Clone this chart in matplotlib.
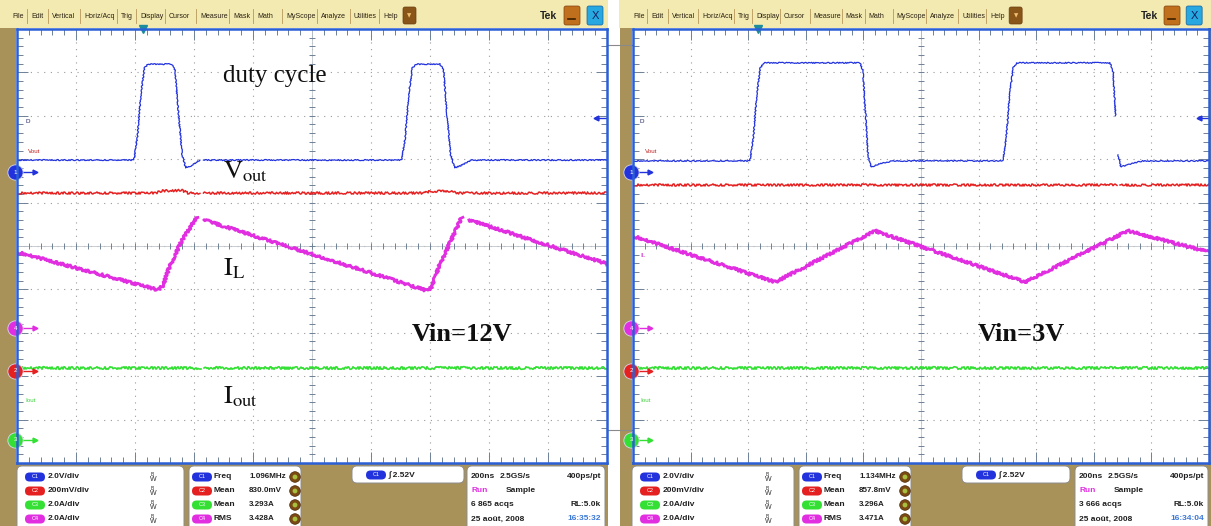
import numpy as np
import matplotlib.pyplot as plt
from matplotlib.patches import Rectangle, FancyBboxPatch, Circle

W, H = 1211, 526
nan = np.nan

# ---- traces, in scope divisions (x 0..10, y -5..5) ----
# left capture : Vin = 12V
l_duty_x = [0, 1.98, 2.04, 2.10, 2.16, 2.22, 2.62, 2.68, 2.74, 2.80, 2.86, 2.95, 3.10, nan,
            3.16, 6.52, 6.58, 6.64, 6.70, 6.76, 7.17, 7.23, 7.29, 7.35, 7.42, 7.52, 7.70, 10]
l_duty_y = [1.98, 1.98, 2.5, 3.5, 4.1, 4.19, 4.19, 4.05, 3.0, 2.1, 1.80, 1.85, 1.98, nan,
            1.98, 1.98, 2.5, 3.5, 4.1, 4.19, 4.19, 4.05, 3.0, 2.1, 1.80, 1.85, 1.98, 1.98]
l_vout_x = [0, 2.35, 2.45, 2.80, 2.90, 3.10, nan, 3.16, 6.90, 7.00, 7.35, 7.45, 10]
l_vout_y = [1.22, 1.22, 1.27, 1.28, 1.22, 1.22, nan, 1.22, 1.22, 1.26, 1.26, 1.22, 1.22]
l_il_x = [0, 2.39, 2.47, 2.59, 2.80, 3.05, nan, 3.17, 6.95, 7.03, 7.15, 7.36, 7.54, nan, 7.66, 10]
l_il_y = [-0.14, -1.01, -0.92, -0.46, 0.14, 0.67, nan, 0.60, -1.03, -0.94, -0.48, 0.14, 0.67, nan, 0.60, -0.41]
l_iout_x = [0, 3.12, nan, 3.17, 10]
l_iout_y = [-2.81, -2.81, nan, -2.81, -2.81]

# right capture : Vin = 3V
r_duty_x = [0, 2.03, 2.09, 2.15, 2.21, 2.27, 3.94, 3.99, 4.04, 4.08, 4.13, 4.25, 4.50,
            6.42, 6.48, 6.54, 6.60, 6.66, 8.28, 8.33, 8.38, nan, 8.42, 8.47, 8.60, 8.85, 10]
r_duty_y = [1.96, 1.96, 2.5, 3.5, 4.1, 4.22, 4.22, 4.05, 3.0, 2.1, 1.82, 1.88, 1.96,
            1.96, 2.5, 3.5, 4.1, 4.22, 4.22, 4.05, 3.0, nan, 2.1, 1.82, 1.88, 1.96, 1.96]
r_vout_x = [0, 8.40, nan, 8.45, 10]
r_vout_y = [1.41, 1.41, nan, 1.41, 1.41]
r_il_x = [0, 2.47, 4.20, 6.81, 8.59, 10]
r_il_y = [0.23, -0.83, 0.35, -0.83, 0.35, -0.14]
r_iout_x = [0, 10]
r_iout_y = [-2.81, -2.81]

# channel ground markers (1, 4, 2, 3)
marker_nums = ['1', '4', '2', '3']
marker_y = [1.70, -1.89, -2.88, -4.47]

# measurement readouts
ch_scale = ['2.0V/div', '200mV/div', '2.0A/div', '2.0A/div']
meas_name = ['Freq', 'Mean', 'Mean', 'RMS']
l_meas = ['1.096MHz', '830.0mV', '3.293A', '3.428A']
r_meas = ['1.134MHz', '857.8mV', '3.296A', '3.471A']
l_acqs, r_acqs = '6 865 acqs', '3 666 acqs'
l_time, r_time = '16:35:32', '16:34:04'
menu_items = ['File', 'Edit', 'Vertical', 'Horiz/Acq', 'Trig', 'Display', 'Cursor', 'Measure',
              'Mask', 'Math', 'MyScope', 'Analyze', 'Utilities', 'Help']
menu_x = [12, 31, 52, 84, 121, 140, 169, 200, 233, 257, 286, 321, 354, 383]

BLUE, RED, MAG, GRN = '#2233dd', '#e52020', '#e02ee0', '#33e033'
CH_COL = [BLUE, RED, GRN, MAG]
MK_COL = [BLUE, MAG, RED, GRN]
TAN = '#a8925a'
MENU = '#f3eab2'
SANS = ['Liberation Sans', 'DejaVu Sans']

fig = plt.figure(figsize=(W / 100, H / 100), dpi=100)
bg = fig.add_axes([0, 0, 1, 1], zorder=0)
bg.set_xlim(0, W); bg.set_ylim(H, 0); bg.axis('off')
top = fig.add_axes([0, 0, 1, 1], zorder=3)
top.set_xlim(0, W); top.set_ylim(H, 0); top.axis('off')


def px_axes(x0, y0, x1, y1):
    return fig.add_axes([x0 / W, 1 - y1 / H, (x1 - x0) / W, (y1 - y0) / H], zorder=1)


def rect(x0, y0, x1, y1, **kw):
    bg.add_patch(Rectangle((x0, y0), x1 - x0, y1 - y0, lw=0, **kw))


def menu_bar(x0, x1, fx, s):
    rect(x0, 0, x1, 28, color=MENU)
    for i, (name, mx) in enumerate(zip(menu_items, menu_x)):
        xx = fx + (mx - 12) * s
        bg.text(xx, 16, name, fontsize=5, family=SANS, color='#2a2010', va='center')
        if i < len(menu_items) - 1:
            sx = fx + (menu_x[i + 1] - 16) * s
            bg.plot([sx, sx], [9, 23], color='#b8985a', lw=0.6)
    bx = fx + (403 - 12) * s
    bg.add_patch(FancyBboxPatch((bx, 7), 13, 17, boxstyle='round,pad=0,rounding_size=2',
                                fc='#8a5518', ec='#6a4010', lw=0.5))
    bg.text(bx + 6.5, 15.5, '\u25bc', fontsize=4, color='#f0c070', ha='center', va='center')
    bg.text(fx + (540 - 12) * s, 16, 'Tek', fontsize=7.5, weight='bold', family=SANS,
            color='#202020', va='center')
    ox = fx + (564 - 12) * s
    bg.add_patch(FancyBboxPatch((ox, 6), 16, 19, boxstyle='round,pad=0,rounding_size=2',
                                fc='#c0701c', ec='#804010', lw=0.5))
    bg.plot([ox + 4, ox + 11], [19, 19], color='#402000', lw=1.2)
    xx = fx + (587 - 12) * s
    bg.add_patch(FancyBboxPatch((xx, 6), 16, 19, boxstyle='round,pad=0,rounding_size=2',
                                fc='#28a8e0', ec='#1060a0', lw=0.5))
    bg.text(xx + 8, 16, 'X', fontsize=8, family=SANS, color='#102060', ha='center', va='center')


def pill(x, y, label, col):
    bg.add_patch(FancyBboxPatch((x, y - 4.5), 20, 9, boxstyle='round,pad=0,rounding_size=4.5',
                                fc=col, ec='none'))
    bg.text(x + 10, y, label, fontsize=4, color='white', ha='center', va='center', family=SANS)


def panel(boxes, meas, acqs, clock):
    rows = [477, 491, 505, 519]
    (b1a, b1b), (b2a, b2b), (b3a, b3b), (b4a, b4b) = boxes
    for a, b in [(b1a, b1b), (b2a, b2b), (b4a, b4b)]:
        bg.add_patch(FancyBboxPatch((a, 466), b - a, 70, boxstyle='round,pad=0,rounding_size=5',
                                    fc='white', ec='#8c8c8c', lw=0.7))
    bg.add_patch(FancyBboxPatch((b3a, 466), b3b - b3a, 17, boxstyle='round,pad=0,rounding_size=5',
                                fc='white', ec='#8c8c8c', lw=0.7))
    tk = dict(fontsize=6, family=SANS, weight='bold', va='center', color='#202020')
    for i, y in enumerate(rows):
        pill(b1a + 8, y, 'C%d' % (i + 1), CH_COL[i])
        bg.text(b1a + 31, y, ch_scale[i], **tk)
        bg.text(b1a + 134, y - 3, 'B', fontsize=3.5, family=SANS, va='center', color='#303030')
        bg.text(b1a + 133, y + 2.5, 'W', fontsize=5, family=SANS, va='center', color='#303030')
        pill(b2a + 3, y, 'C%d' % (i + 1), CH_COL[i])
        bg.text(b2a + 25, y, meas_name[i], **tk)
        bg.text(b2a + 60, y, meas[i], **dict(tk, fontsize=5.8))
        bg.add_patch(Circle((b2a + 106, y), 5.3, fc='#7a4a12', ec='#4a2a08', lw=0.5))
        bg.add_patch(Circle((b2a + 106, y), 2.4, fc='#a8c040', ec='none'))
    pill(b3a + 14, 475, 'C1', BLUE)
    bg.text(b3a + 37, 475, '\u222b 2.52V', **tk)
    bg.text(b4a + 4, rows[0], '200ns', **tk)
    bg.text(b4a + 33, rows[0], '2.5GS/s', **tk)
    bg.text(b4b - 4, rows[0], '400ps/pt', ha='right', **tk)
    bg.text(b4a + 4, rows[1], 'Run', **dict(tk, color='#e030e0'))
    bg.text(b4a + 39, rows[1], 'Sample', **tk)
    bg.text(b4a + 4, rows[2], acqs, **tk)
    bg.text(b4b - 4, rows[2], 'RL:5.0k', ha='right', **tk)
    bg.text(b4a + 4, rows[3], '25 ao\u00fbt, 2008', **tk)
    bg.text(b4b - 4, rows[3], clock, ha='right', **dict(tk, color='#3a78d8'))


def graticule(ax):
    ax.set_xlim(0, 10); ax.set_ylim(-5, 5)
    ax.set_xticks(np.arange(0, 11, 1)); ax.set_yticks(np.arange(-5, 6, 1))
    ax.set_xticks(np.arange(0, 10.01, 0.2), minor=True)
    ax.set_yticks(np.arange(-5, 5.01, 0.2), minor=True)
    ax.grid(True, which='major', color='#9a9a9a', linestyle=(0, (1, 5)), lw=0.8)
    ax.tick_params(which='both', direction='in', top=True, right=True, labelleft=False,
                   labelbottom=False, color='#6f8196', width=0.7)
    ax.tick_params(which='major', length=8)
    ax.tick_params(which='minor', length=4)
    for sp in ax.spines.values():
        sp.set_color('#2a5fd6'); sp.set_linewidth(1.8)
    ax.axhline(0, color='#c0c6cc', lw=0.6); ax.axvline(5, color='#c0c6cc', lw=0.6)
    cx = np.arange(0, 10.01, 0.2)
    cy = np.arange(-5, 5.01, 0.2)
    ax.plot(cx, np.zeros_like(cx), ls='none', marker='|', ms=5, mew=0.7, color='#6f8196')
    ax.plot(np.full_like(cy, 5), cy, ls='none', marker='_', ms=5, mew=0.7, color='#6f8196')


def trace(ax, x, y, col, lw, sk):
    ln, = ax.plot(x, y, color=col, lw=lw, solid_joinstyle='round')
    ln.set_sketch_params(scale=sk, length=2.5, randomness=3)


def screen(ax, traces, trig_x, labels):
    graticule(ax)
    (dx, dy), (vx, vy), (ix, iy), (ox, oy) = traces
    trace(ax, dx, dy, BLUE, 0.9, 0.55)
    trace(ax, vx, vy, RED, 1.1, 1.1)
    trace(ax, ix, iy, MAG, 2.0, 1.3)
    trace(ax, ox, oy, GRN, 1.2, 1.3)
    for num, y, col in zip(marker_nums, marker_y, MK_COL):
        ax.plot([0.02, 0.28], [y, y], color=col, lw=1, clip_on=False)
        ax.plot(0.3, y, marker='>', ms=3.5, color=col, clip_on=False)
        ax.plot(-0.03, y, marker='o', ms=11, mfc=col, mec='#d8d8f0', mew=0.6, clip_on=False)
        ax.text(-0.03, y, num, fontsize=4.5, color='white', ha='center', va='center', family=SANS)
    ax.plot([9.82, 10], [2.95, 2.95], color=BLUE, lw=1, clip_on=False)
    ax.plot(9.82, 2.95, marker='<', ms=3.5, color=BLUE, clip_on=False)
    ax.plot(trig_x, 5.0, marker='v', ms=6, color='#1c8c9c', clip_on=False)
    for txt, x, y, col in labels:
        ax.text(x, y, txt, fontsize=4.5, color=col, family=SANS, va='center')


# frames
menu_bar(0, 608, 12, 1.0)
menu_bar(619, W, 633, 0.962)
rect(0, 28, 16, H, color=TAN)
rect(0, 462, 608, H, color=TAN)
rect(620, 28, 632, H, color=TAN)
rect(620, 462, W, H, color=TAN)
rect(1208, 28, W, H, color=TAN)
for yy in (45, 430):
    bg.plot([607, 632], [yy, yy], color='#8a8a8a', lw=0.8)

panel([(17, 184), (189, 301), (352, 464), (467, 605)], l_meas, l_acqs, l_time)
panel([(632, 794), (799, 911), (962, 1070), (1075, 1208)], r_meas, r_acqs, r_time)

axL = px_axes(17, 29, 607, 463)
axR = px_axes(633, 29, 1209, 463)
screen(axL, [(l_duty_x, l_duty_y), (l_vout_x, l_vout_y), (l_il_x, l_il_y), (l_iout_x, l_iout_y)],
       2.14, [('D', 0.14, 2.86, '#202060'), ('Vout', 0.19, 2.17, '#c02020'),
              ('Iout', 0.14, -3.55, '#40d040')])
screen(axR, [(r_duty_x, r_duty_y), (r_vout_x, r_vout_y), (r_il_x, r_il_y), (r_iout_x, r_iout_y)],
       2.17, [('D', 0.12, 2.86, '#202060'), ('Vout', 0.21, 2.17, '#c02020'),
              ('IL', 0.12, -0.23, '#d030d0'), ('Iout', 0.12, -3.55, '#40d040')])

# annotations
plt.rcParams['mathtext.fontset'] = 'stix'
serif = ['Liberation Serif', 'DejaVu Serif']
top.text(223, 82, 'duty cycle', fontsize=18, family=serif, color='#101010')
top.text(223, 178, r'$\mathrm{V}_{\mathrm{out}}$', fontsize=19, color='#101010')
top.text(223, 275, r'$\mathrm{I}_{\mathrm{L}}$', fontsize=19, color='#101010')
top.text(223, 403, r'$\mathrm{I}_{\mathrm{out}}$', fontsize=19, color='#101010')
top.text(412, 341, 'Vin=12V', fontsize=19, family=serif, weight='bold', color='#101010')
top.text(978, 341, 'Vin=3V', fontsize=19, family=serif, weight='bold', color='#101010')

fig.savefig('out.png', dpi=100)
